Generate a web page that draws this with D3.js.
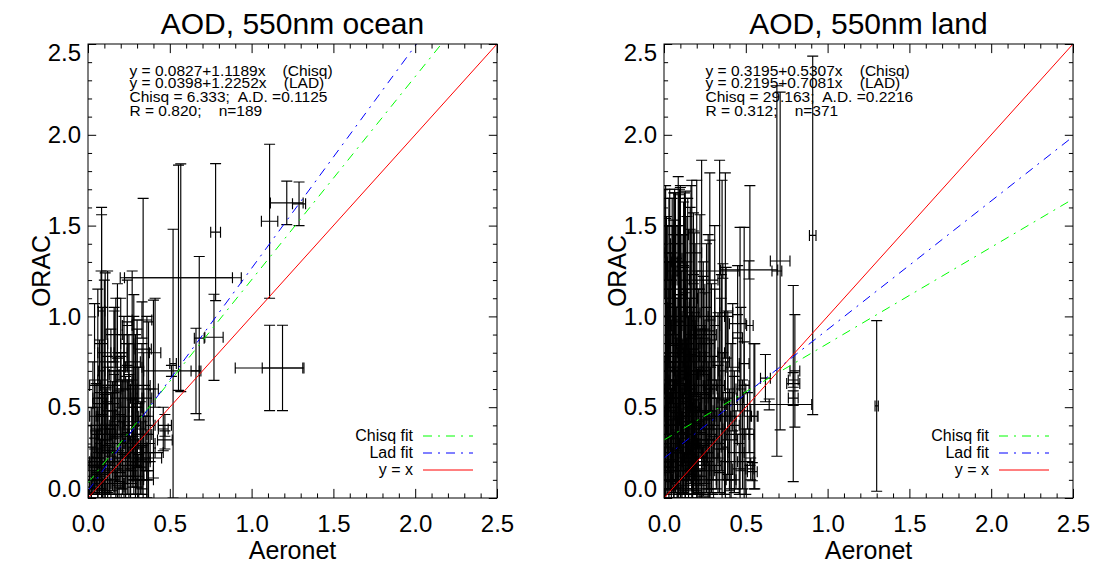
<!DOCTYPE html>
<html><head><meta charset="utf-8">
<script src="https://cdn.jsdelivr.net/npm/d3@7"></script>
<style>
body{margin:0;background:#fff}
svg{display:block}
text{font-family:"Liberation Sans",Arial,Helvetica,sans-serif;fill:#000}
</style>
</head><body>
<svg id="chart" width="1097" height="563"></svg>
<script>
// ---------------- data ----------------
const majorTicks = [0.0, 0.5, 1.0, 1.5, 2.0, 2.5];
const tickLabels = ["0.0", "0.5", "1.0", "1.5", "2.0", "2.5"];
const minorTicks = [0.1,0.2,0.3,0.4,0.6,0.7,0.8,0.9,1.1,1.2,1.3,1.4,1.6,1.7,1.8,1.9,2.1,2.2,2.3,2.4];
const panelTitles = ["AOD, 550nm ocean", "AOD, 550nm land"];
const xTitle = "Aeronet";
const yTitle = "ORAC";
const legendLabels = ["Chisq fit", "Lad fit", "y = x"];

// ocean: Aeronet AOD, ORAC AOD, and their errors
const oceanX = [0.083,0.083,0.105,0.18,0.567,0.553,1.11,1.215,1.29,0.78,0.337,0.52,1.11,1.189,0.68,0.77,0.66,0.51,0.41,0.33,0.47,0.47,0.46,0.30,0.37,0.33,0.40,0.28,
  0.02,0.03,0.04,0.05,0.05,0.06,0.07,0.07,0.08,0.09,0.09,0.10,0.10,0.11,0.12,0.12,0.13,0.14,0.14,0.15,0.16,0.17,0.18,0.19,0.20,0.20,0.21,0.22,0.23,0.24,0.25,0.25,0.26,0.27,0.28,0.29,0.30,0.31,0.32,0.33,0.34,0.35,0.36,0.37,0.38,0.30,0.33,0.15,0.12,0.18,0.22,0.27,0.10,0.06,0.16,0.24,0.31,0.36,0.02,0.04,
  0.01,0.02,0.03,0.04,0.05,0.06,0.07,0.08,0.09,0.10,0.11,0.12,0.13,0.14,0.15,0.16,0.17,0.18,0.19,0.20,0.21,0.22,0.23,0.24,0.25,0.26,0.27,0.28,0.29,0.30,0.32,0.34,0.36,0.04,0.08,0.12,0.16,0.20,0.24,0.28];
const oceanY = [1.03,0.70,0.62,0.60,1.213,1.213,1.524,1.625,1.62,1.464,0.82,0.74,0.716,0.716,0.88,0.885,0.70,0.70,0.80,0.98,0.40,0.32,0.38,0.50,0.45,0.45,0.60,0.55,
  0.05,0.10,0.15,0.08,0.22,0.30,0.12,0.40,0.18,0.25,0.05,0.35,0.15,0.45,0.08,0.28,0.20,0.38,0.10,0.52,0.30,0.15,0.42,0.06,0.25,0.55,0.35,0.12,0.45,0.20,0.30,0.60,0.08,0.40,0.18,0.50,0.28,0.12,0.35,0.22,0.45,0.30,0.15,0.25,0.40,0.22,0.25,0.35,0.62,0.72,0.65,0.75,0.80,0.55,0.90,0.85,0.62,0.55,0.20,0.35,
  0.12,0.28,0.45,0.18,0.38,0.10,0.52,0.25,0.65,0.20,0.32,0.48,0.14,0.58,0.26,0.40,0.70,0.08,0.34,0.46,0.22,0.60,0.12,0.36,0.50,0.18,0.30,0.42,0.10,0.55,0.20,0.35,0.10,0.62,0.85,0.75,0.68,0.80,0.95,0.72];
const oceanXErr = [0.02,0.02,0.03,0.02,0.37,0.33,0.05,0.10,0.04,0.03,0.05,0.02,0.21,0.124,0.03,0.056,0.03,0.17,0.035,0.06,0.04,0.045,0.03,0.03,0.03,0.04,0.03,0.02,
  0.01,0.02,0.02,0.02,0.03,0.02,0.03,0.03,0.04,0.03,0.02,0.04,0.03,0.05,0.03,0.04,0.05,0.03,0.04,0.04,0.06,0.05,0.04,0.03,0.05,0.06,0.04,0.05,0.04,0.06,0.03,0.05,0.04,0.05,0.04,0.04,0.06,0.03,0.04,0.05,0.03,0.06,0.04,0.04,0.03,0.15,0.13,0.10,0.08,0.06,0.05,0.05,0.04,0.03,0.05,0.04,0.07,0.03,0.01,0.02,
  0.02,0.03,0.02,0.04,0.03,0.02,0.04,0.05,0.03,0.06,0.04,0.03,0.05,0.04,0.07,0.03,0.05,0.04,0.06,0.03,0.05,0.04,0.06,0.03,0.05,0.07,0.04,0.03,0.05,0.04,0.06,0.05,0.04,0.03,0.04,0.05,0.03,0.04,0.03,0.05];
const oceanYErr = [0.57,0.86,0.62,0.58,0.627,0.62,0.424,0.12,0.12,0.377,0.83,0.74,0.235,0.235,0.45,0.237,0.235,0.03,0.30,0.10,0.06,0.05,0.12,0.48,0.52,0.40,0.49,0.45,
  0.05,0.08,0.12,0.06,0.15,0.20,0.10,0.18,0.14,0.30,0.05,0.22,0.12,0.16,0.08,0.25,0.18,0.20,0.10,0.12,0.28,0.15,0.35,0.06,0.20,0.25,0.30,0.12,0.22,0.18,0.38,0.30,0.08,0.25,0.16,0.40,0.22,0.12,0.18,0.20,0.35,0.15,0.15,0.10,0.20,0.05,0.04,0.05,0.10,0.08,0.35,0.50,0.40,0.60,0.15,0.12,0.10,0.45,0.20,0.30,
  0.10,0.22,0.30,0.15,0.25,0.10,0.35,0.20,0.40,0.18,0.28,0.30,0.12,0.35,0.22,0.30,0.40,0.08,0.25,0.32,0.20,0.30,0.12,0.28,0.35,0.16,0.24,0.30,0.10,0.38,0.18,0.25,0.10,0.45,0.40,0.50,0.35,0.30,0.25,0.40];

// land
const landX = [0.06,0.087,0.10,0.13,0.17,0.20,0.23,0.28,0.34,0.355,0.375,0.465,0.49,0.525,0.01,0.909,0.71,0.69,0.79,0.80,0.62,0.643,1.30,0.52,0.555,0.79,0.79,
  0.01,0.02,0.02,0.03,0.03,0.04,0.04,0.05,0.05,0.06,0.06,0.07,0.07,0.08,0.08,0.09,0.09,0.10,0.10,0.11,0.11,0.12,0.12,0.13,0.13,0.14,0.14,0.15,0.15,0.16,0.16,0.17,0.17,0.18,0.18,0.19,0.19,0.20,0.20,0.21,0.21,0.22,0.22,0.23,0.23,0.24,0.24,0.25,0.25,0.26,0.26,0.27,0.27,0.28,0.28,0.29,0.29,0.30,0.30,
  0.02,0.05,0.08,0.12,0.18,0.03,0.06,0.09,0.11,0.13,0.15,0.17,0.19,0.21,0.23,0.25,0.04,0.07,0.10,0.14,0.20,
  0.31,0.32,0.33,0.34,0.35,0.36,0.37,0.38,0.39,0.40,0.41,0.42,0.43,0.44,0.45,0.46,0.47,0.48,0.49,0.50,0.51,0.52,0.53,0.54,0.55,0.36,0.45,
  0.005,0.015,0.025,0.035,0.045,0.055,0.065,0.075,0.085,0.095,0.105,0.115,0.125,0.135,0.145,0.155,0.165,0.175,0.185,0.195,
  0.01,0.02,0.03,0.04,0.05,0.06,0.07,0.08,0.09,0.10,0.11,0.12,0.13,0.14,0.15,0.16,0.17,0.18,0.19,0.20,
  0.21,0.22,0.23,0.24,0.25,0.26,0.27,0.28,0.29,0.31,0.33,0.35,0.37,0.39,0.41,0.43,0.005,0.03,0.06,0.09,
  0.015,0.045,0.075,0.105,0.135,0.165,0.195,0.225,0.255,0.285,0.04,0.08,0.12,0.16,0.20,0.02,0.06,0.10,0.14,0.18];
const landY = [0.65,0.75,0.80,0.55,0.90,0.70,0.85,0.60,1.00,0.70,0.45,0.55,0.62,0.95,0.60,1.446,1.305,1.25,0.63,0.70,0.66,0.515,0.507,1.256,0.45,0.65,0.55,
  0.20,0.45,0.85,0.10,0.60,1.05,0.30,0.75,0.15,0.50,1.20,0.25,0.95,0.40,0.05,0.70,1.10,0.35,0.18,0.85,0.55,1.25,0.28,0.65,0.10,0.45,0.95,0.22,0.75,1.05,0.38,0.60,0.12,0.88,0.30,0.50,1.15,0.20,0.70,0.42,0.95,0.08,0.58,0.32,0.80,1.00,0.15,0.48,0.68,0.25,0.90,0.40,0.10,0.62,1.20,0.35,0.78,0.18,0.55,
  1.35,1.30,1.40,1.45,1.35,0.35,0.65,0.45,0.25,0.85,0.55,0.32,0.78,0.15,0.55,0.85,0.55,0.78,1.00,0.30,0.45,
  0.95,0.30,0.62,0.15,0.80,0.45,0.20,1.02,0.55,0.32,0.10,0.72,0.40,0.25,0.88,0.16,0.60,0.35,0.74,0.20,0.48,0.35,0.16,0.145,0.45,1.25,0.96,
  0.40,0.95,0.62,1.15,0.30,0.80,1.30,0.55,0.20,1.05,0.70,0.45,1.20,0.35,0.90,0.60,1.10,0.25,0.78,0.50,
  1.00,0.30,0.72,0.48,1.25,0.15,0.88,0.58,0.36,1.12,0.22,0.66,0.95,0.42,0.12,0.82,0.52,1.02,0.28,0.62,
  0.40,0.92,0.18,0.70,0.32,0.55,0.85,0.22,0.45,0.65,0.38,0.75,0.28,0.58,0.45,0.35,1.40,1.20,0.98,1.32,
  0.70,0.25,0.52,0.85,0.40,0.68,0.22,0.48,0.30,0.60,0.15,0.35,0.10,0.20,0.12,0.55,0.80,0.62,1.00,0.40];
const landXErr = [0.02,0.03,0.02,0.03,0.02,0.04,0.03,0.02,0.03,0.02,0.03,0.02,0.03,0.02,0.01,0.02,0.06,0.03,0.04,0.03,0.03,0.26,0.01,0.175,0.02,0.03,0.03,
  0.01,0.02,0.01,0.02,0.03,0.02,0.03,0.02,0.04,0.03,0.02,0.02,0.04,0.03,0.02,0.05,0.03,0.04,0.02,0.03,0.06,0.04,0.03,0.04,0.05,0.03,0.05,0.04,0.03,0.04,0.06,0.03,0.03,0.05,0.04,0.03,0.06,0.05,0.04,0.03,0.04,0.04,0.06,0.03,0.05,0.03,0.04,0.05,0.03,0.04,0.06,0.03,0.05,0.04,0.05,0.03,0.04,0.05,0.03,
  0.02,0.03,0.04,0.03,0.05,0.02,0.03,0.02,0.03,0.02,0.03,0.02,0.03,0.02,0.02,0.03,0.08,0.10,0.08,0.12,0.10,
  0.03,0.05,0.04,0.03,0.02,0.05,0.03,0.04,0.03,0.05,0.03,0.04,0.03,0.05,0.03,0.04,0.03,0.04,0.03,0.05,0.02,0.03,0.02,0.03,0.02,0.10,0.05,
  0.02,0.03,0.04,0.02,0.05,0.03,0.02,0.04,0.03,0.06,0.02,0.04,0.03,0.05,0.02,0.03,0.04,0.06,0.03,0.02,
  0.03,0.05,0.02,0.04,0.03,0.06,0.02,0.03,0.05,0.04,0.03,0.02,0.04,0.06,0.03,0.05,0.02,0.04,0.03,0.05,
  0.04,0.03,0.05,0.02,0.06,0.03,0.04,0.05,0.03,0.04,0.03,0.05,0.02,0.04,0.03,0.05,0.01,0.02,0.03,0.02,
  0.05,0.04,0.06,0.03,0.05,0.04,0.07,0.03,0.05,0.04,0.08,0.06,0.07,0.05,0.06,0.03,0.04,0.05,0.03,0.04];
const landYErr = [1.03,1.02,0.91,1.14,0.85,1.05,1.01,1.19,0.86,1.05,1.34,0.94,0.87,0.77,0.94,0.987,0.93,1.02,0.54,0.31,0.13,0.03,0.47,0.05,0.40,0.04,0.04,
  0.20,0.40,0.45,0.10,0.55,0.30,0.25,0.60,0.12,0.35,0.25,0.22,0.50,0.30,0.05,0.45,0.40,0.28,0.15,0.60,0.20,0.20,0.25,0.50,0.10,0.40,0.35,0.20,0.25,0.55,0.30,0.45,0.12,0.30,0.28,0.40,0.25,0.18,0.55,0.30,0.20,0.08,0.35,0.25,0.45,0.30,0.14,0.40,0.25,0.22,0.50,0.35,0.10,0.30,0.22,0.30,0.40,0.16,0.45,
  0.15,0.20,0.10,0.18,0.12,0.30,0.25,0.35,0.22,0.28,0.30,0.25,0.22,0.12,0.40,0.28,0.05,0.06,0.05,0.05,0.04,
  0.55,0.25,0.40,0.12,0.30,0.35,0.18,0.25,0.45,0.28,0.10,0.35,0.30,0.20,0.40,0.14,0.45,0.30,0.12,0.18,0.10,0.10,0.06,0.05,0.40,0.04,0.05,
  0.38,0.60,0.45,0.55,0.30,0.70,0.40,0.50,0.20,0.65,0.55,0.42,0.48,0.33,0.75,0.50,0.62,0.25,0.68,0.45,
  0.72,0.28,0.58,0.44,0.40,0.15,0.80,0.52,0.34,0.60,0.22,0.62,0.70,0.40,0.12,0.66,0.48,0.55,0.26,0.58,
  0.38,0.64,0.18,0.52,0.30,0.50,0.60,0.22,0.42,0.50,0.35,0.48,0.26,0.45,0.40,0.32,0.30,0.45,0.55,0.35,
  0.10,0.08,0.12,0.10,0.09,0.11,0.07,0.10,0.08,0.12,0.06,0.09,0.08,0.07,0.10,0.45,0.60,0.50,0.55,0.38];

const oceanChisqFit = [0.0827, 1.1189];
const oceanLadFit = [0.0398, 1.2252];
const landChisqFit = [0.3195, 0.5307];
const landLadFit = [0.2195, 0.7081];

const oceanStats = ["y = 0.0827+1.1189x    (Chisq)", "y = 0.0398+1.2252x    (LAD)", "Chisq = 6.333;  A.D. =0.1125", "R = 0.820;    n=189"];
const landStats = ["y = 0.3195+0.5307x    (Chisq)", "y = 0.2195+0.7081x    (LAD)", "Chisq = 29.163;  A.D. =0.2216", "R = 0.312;    n=371"];

// ---------------- drawing ----------------
const svg = d3.select("#chart");
const FONT = '"Liberation Sans",Arial,Helvetica,sans-serif';
const colors = {chisq: "#00ff00", lad: "#0000ff", one: "#ff0000"};
const dashDot = "9,6,2,6";
const yTopPx = 44, yBotPx = 498;

const panels = [
  {x0: 88, x1: 497, title: panelTitles[0], xs: oceanX, ys: oceanY, xe: oceanXErr, ye: oceanYErr, chisq: oceanChisqFit, lad: oceanLadFit, stats: oceanStats},
  {x0: 664, x1: 1073, title: panelTitles[1], xs: landX, ys: landY, xe: landXErr, ye: landYErr, chisq: landChisqFit, lad: landLadFit, stats: landStats}
];

panels.forEach((p, pi) => {
  const x = d3.scaleLinear().domain([0, 2.5]).range([p.x0, p.x1]);
  const y = d3.scaleLinear().domain([0, 2.5]).range([yBotPx, yTopPx]);
  const g = svg.append("g");
  const clipId = "clip" + pi;
  svg.append("clipPath").attr("id", clipId).append("rect")
    .attr("x", p.x0).attr("y", yTopPx).attr("width", p.x1 - p.x0).attr("height", yBotPx - yTopPx);

  // error bars
  const cap = 5.5;
  const eb = g.append("g").attr("clip-path", `url(#${clipId})`)
    .attr("stroke", "#000").attr("stroke-width", 1.15).attr("fill", "none");
  p.xs.forEach((xv, i) => {
    const yv = p.ys[i], xe = p.xe[i], ye = p.ye[i];
    const cx = x(xv), cy = y(yv);
    const yTop = y(yv + ye), yBot = y(yv - ye);
    const xL = x(xv - xe), xR = x(xv + xe);
    const path = d3.path();
    path.moveTo(cx, yTop); path.lineTo(cx, yBot);
    path.moveTo(cx - cap, yTop); path.lineTo(cx + cap, yTop);
    path.moveTo(cx - cap, yBot); path.lineTo(cx + cap, yBot);
    path.moveTo(xL, cy); path.lineTo(xR, cy);
    path.moveTo(xL, cy - cap); path.lineTo(xL, cy + cap);
    path.moveTo(xR, cy - cap); path.lineTo(xR, cy + cap);
    eb.append("path").attr("d", path.toString());
  });

  // fit lines
  const lines = g.append("g").attr("clip-path", `url(#${clipId})`).attr("fill", "none");
  const ln = d3.line().x(d => x(d[0])).y(d => y(d[1]));
  const fitPts = (c) => [[0, c[0]], [2.5, c[0] + c[1] * 2.5]];
  lines.append("path").attr("d", ln(fitPts(p.chisq))).attr("stroke", colors.chisq).attr("stroke-dasharray", dashDot);
  lines.append("path").attr("d", ln(fitPts(p.lad))).attr("stroke", colors.lad).attr("stroke-dasharray", dashDot);
  lines.append("path").attr("d", ln([[0, 0], [2.5, 2.5]])).attr("stroke", colors.one);

  // frame
  g.append("rect").attr("x", p.x0).attr("y", yTopPx).attr("width", p.x1 - p.x0).attr("height", yBotPx - yTopPx)
    .attr("fill", "none").attr("stroke", "#000").attr("stroke-width", 1);

  // axes (ticks inward on all sides)
  const fmt = (d) => tickLabels[majorTicks.indexOf(d)];
  const xTL = 9.1, yTL = 8.2;
  const styleAxis = (sel) => {
    sel.select(".domain").remove();
    sel.selectAll("line").attr("stroke", "#000");
    sel.selectAll("text").style("font-family", FONT).style("font-size", "24px").attr("fill", "#000");
  };
  g.append("g").attr("transform", `translate(0,${yBotPx})`)
    .call(d3.axisBottom(x).tickValues(majorTicks).tickSize(-xTL).tickPadding(17).tickFormat(fmt)).call(styleAxis);
  g.append("g").attr("transform", `translate(0,${yBotPx})`)
    .call(d3.axisBottom(x).tickValues(minorTicks).tickSize(-xTL / 2).tickFormat("")).call(styleAxis);
  g.append("g").attr("transform", `translate(0,${yTopPx})`)
    .call(d3.axisTop(x).tickValues(majorTicks).tickSize(-xTL).tickFormat("")).call(styleAxis);
  g.append("g").attr("transform", `translate(0,${yTopPx})`)
    .call(d3.axisTop(x).tickValues(minorTicks).tickSize(-xTL / 2).tickFormat("")).call(styleAxis);
  const yAx = g.append("g").attr("transform", `translate(${p.x0},0)`)
    .call(d3.axisLeft(y).tickValues(majorTicks).tickSize(-yTL).tickPadding(7).tickFormat(fmt)).call(styleAxis);
  // end labels kept inside the axis range, as in the original
  yAx.selectAll(".tick text").attr("dy", d => d === 0 ? "-0.05em" : (d === 2.5 ? "0.68em" : "0.32em"));
  g.append("g").attr("transform", `translate(${p.x0},0)`)
    .call(d3.axisLeft(y).tickValues(minorTicks).tickSize(-yTL / 2).tickFormat("")).call(styleAxis);
  g.append("g").attr("transform", `translate(${p.x1},0)`)
    .call(d3.axisRight(y).tickValues(majorTicks).tickSize(-yTL).tickFormat("")).call(styleAxis);
  g.append("g").attr("transform", `translate(${p.x1},0)`)
    .call(d3.axisRight(y).tickValues(minorTicks).tickSize(-yTL / 2).tickFormat("")).call(styleAxis);

  const cxMid = (p.x0 + p.x1) / 2;
  // title
  g.append("text").attr("x", cxMid).attr("y", 34).attr("text-anchor", "middle")
    .style("font-size", "30px").text(p.title);
  // axis titles
  g.append("text").attr("x", cxMid).attr("y", 559).attr("text-anchor", "middle")
    .style("font-size", "25px").text(xTitle);
  g.append("text").attr("transform", `translate(${p.x0 - 38},${(yTopPx + yBotPx) / 2}) rotate(-90)`)
    .attr("text-anchor", "middle").style("font-size", "25px").text(yTitle);

  // stats text
  const sBase = [76, 87.5, 102, 116];
  p.stats.forEach((s, i) => {
    g.append("text").attr("x", p.x0 + 41.5).attr("y", sBase[i])
      .attr("xml:space", "preserve").style("white-space", "pre")
      .style("font-size", "15.5px").text(s);
  });

  // legend
  const legColors = [colors.chisq, colors.lad, colors.one];
  const legDash = [dashDot, dashDot, null];
  legendLabels.forEach((lab, i) => {
    const by = 441 + i * 17;
    g.append("text").attr("x", p.x1 - 84).attr("y", by).attr("text-anchor", "end")
      .style("font-size", "16px").text(lab);
    g.append("line").attr("x1", p.x1 - 74).attr("x2", p.x1 - 24).attr("y1", by - 5).attr("y2", by - 5)
      .attr("stroke", legColors[i]).attr("stroke-dasharray", legDash[i]);
  });
});
</script>
</body></html>
